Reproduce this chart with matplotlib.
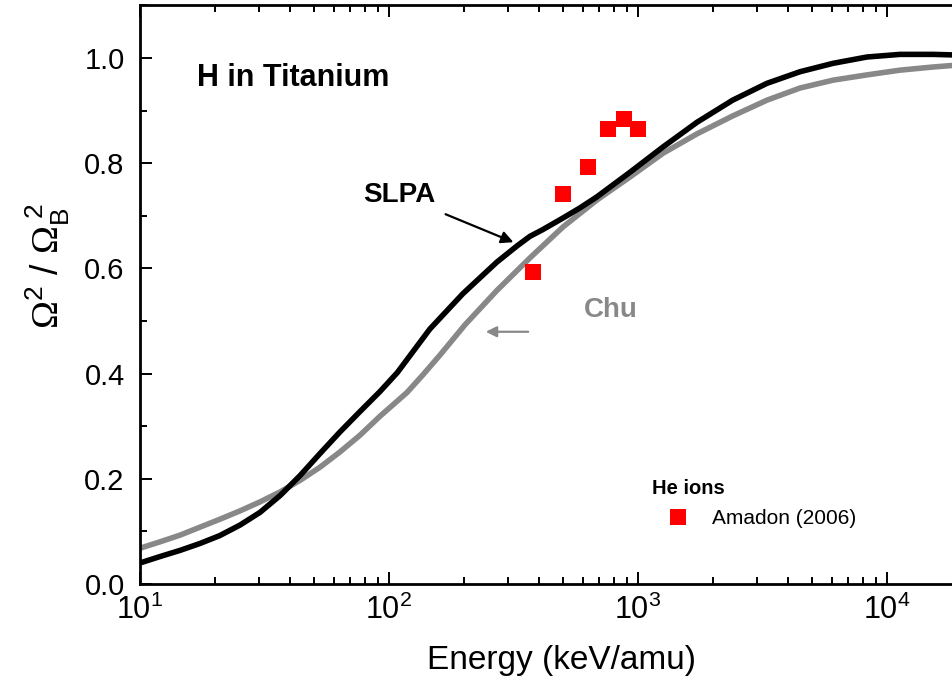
import matplotlib
matplotlib.use("Agg")
import matplotlib.pyplot as plt
from matplotlib.ticker import FixedLocator, LogLocator, LogFormatterMathtext, NullFormatter, MultipleLocator

plt.rcParams['font.family'] = ['Liberation Sans', 'DejaVu Sans']
plt.rcParams['mathtext.fontset'] = 'custom'
plt.rcParams['mathtext.rm'] = 'Liberation Sans'
plt.rcParams['mathtext.it'] = 'Liberation Sans:italic'
plt.rcParams['mathtext.bf'] = 'Liberation Sans:bold'
plt.rcParams['mathtext.sf'] = 'Liberation Serif'

# SLPA curve (black)
slpa_energy = [10, 12, 14.5, 17.4, 20.9, 25.2, 30.3, 36.5, 43.9, 52.8, 63.5, 76.5, 92, 108, 146, 198,
               271, 327, 368, 415, 500, 584, 683, 929, 1260, 1726, 2400, 3296, 4470, 6070, 8300,
               11270, 15300, 18400]
slpa_ratio = [0.040, 0.052, 0.064, 0.077, 0.092, 0.112, 0.136, 0.168, 0.206, 0.248, 0.289, 0.328,
              0.366, 0.402, 0.485, 0.552, 0.612, 0.643, 0.661, 0.674, 0.696, 0.715, 0.736, 0.783,
              0.831, 0.878, 0.920, 0.952, 0.974, 0.990, 1.002, 1.007, 1.007, 1.006]

# Chu curve (grey)
chu_energy = [10, 12, 14.5, 17.4, 20.9, 25.2, 30.3, 36.5, 43.9, 52.8, 63.5, 76.5, 92, 118, 137, 160,
              202, 271, 368, 500, 683, 929, 1260, 1726, 2400, 3296, 4470, 6070, 8300, 11270,
              15300, 18400]
chu_ratio = [0.068, 0.080, 0.093, 0.108, 0.123, 0.139, 0.156, 0.175, 0.197, 0.222, 0.251, 0.283,
             0.319, 0.364, 0.398, 0.435, 0.493, 0.558, 0.620, 0.679, 0.730, 0.774, 0.819, 0.856,
             0.890, 0.920, 0.943, 0.958, 0.968, 0.977, 0.983, 0.986]

# He ions, Amadon (2006)
amadon_energy = [379, 500, 631, 758, 879, 1000]
amadon_ratio = [0.593, 0.741, 0.793, 0.865, 0.884, 0.865]

y_ticks = [0.0, 0.2, 0.4, 0.6, 0.8, 1.0]
y_ticklabels = ['0.0', '0.2', '0.4', '0.6', '0.8', '1.0']

fig = plt.figure(figsize=(9.53, 6.84), dpi=100)
ax = fig.add_axes([0.1469, 0.1462, 0.8531, 0.8458])

grey = '#888888'
ax.plot(chu_energy, chu_ratio, color=grey, lw=4.0, solid_joinstyle='round', zorder=2)
ax.plot(slpa_energy, slpa_ratio, color='black', lw=4.0, solid_joinstyle='round', zorder=3)
ax.plot(amadon_energy, amadon_ratio, ls='none', marker='s', ms=11.5, mfc='#ff0000',
        mec='#ff0000', mew=0, zorder=4, label='Amadon (2006)')

ax.set_xscale('log')
ax.set_xlim(10, 18400)
ax.set_ylim(0, 1.1)

ax.xaxis.set_major_locator(LogLocator(base=10, numticks=10))
ax.xaxis.set_minor_locator(LogLocator(base=10, subs=range(2, 10), numticks=20))
ax.xaxis.set_major_formatter(LogFormatterMathtext())
ax.xaxis.set_minor_formatter(NullFormatter())
ax.yaxis.set_major_locator(FixedLocator(y_ticks))
ax.set_yticklabels(y_ticklabels)
ax.yaxis.set_minor_locator(MultipleLocator(0.1))

for s in ['left', 'bottom', 'top']:
    ax.spines[s].set_linewidth(2.0)
ax.spines['right'].set_visible(False)

ax.tick_params(which='both', direction='in', top=True, right=False, width=1.4)
ax.tick_params(which='major', length=8.6)
ax.tick_params(which='minor', length=5)
ax.tick_params(axis='y', which='major', labelsize=21, pad=11)
ax.tick_params(axis='x', which='major', labelsize=22, pad=8)

ax.set_xlabel('Energy (keV/amu)', fontsize=24)
ax.xaxis.set_label_coords(0.519, -0.105)
ax.xaxis.label.set_va('top')
ax.set_ylabel(r'$\mathsf{\Omega}^2\ /\ \mathsf{\Omega}_\mathrm{B}^{\ 2}$', fontsize=27)
ax.yaxis.set_label_coords(-0.084, 0.55)

ax.text(0.0701, 0.874, 'H in Titanium', transform=ax.transAxes, fontsize=22,
        fontweight='bold', ha='left', va='center')
ax.text(0.3185, 0.672, 'SLPA', transform=ax.transAxes, fontsize=20,
        fontweight='bold', ha='center', va='center')
ax.text(0.5794, 0.474, 'Chu', transform=ax.transAxes, fontsize=20,
        fontweight='bold', ha='center', va='center', color=grey)

ax.annotate('', xy=(0.4625, 0.589), xytext=(0.3727, 0.641), xycoords='axes fraction',
            arrowprops=dict(arrowstyle='-|>', color='black', lw=1.6, mutation_scale=18))
ax.annotate('', xy=(0.4219, 0.436), xytext=(0.4809, 0.436), xycoords='axes fraction',
            arrowprops=dict(arrowstyle='-|>', color=grey, lw=1.6, mutation_scale=16))

leg = ax.legend(loc='center left', bbox_to_anchor=(0.6246, 0.139), frameon=False, fontsize=15,
                title='He ions', title_fontproperties={'weight': 'bold', 'size': 14.5},
                handlelength=2.5, handletextpad=0.4, borderpad=0.2, borderaxespad=0,
                labelspacing=0.2)
leg._legend_box.align = 'left'
leg._legend_box.sep = 8

fig.savefig('out.png', dpi=100)
